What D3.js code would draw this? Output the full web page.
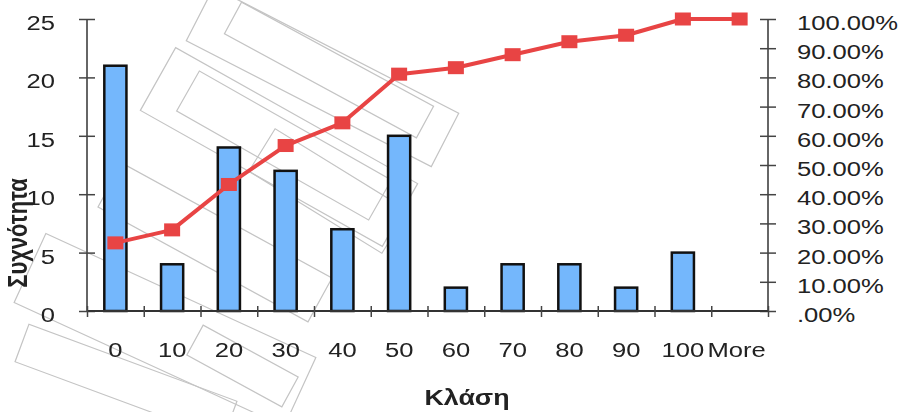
<!DOCTYPE html>
<html>
<head>
<meta charset="utf-8">
<script src="https://cdn.jsdelivr.net/npm/d3@7/dist/d3.min.js"></script>
<style>
  html, body { margin: 0; padding: 0; background: #fff; }
  svg { display: block; }
  text { font-family: "Liberation Sans", Arial, sans-serif; fill: #222; }
</style>
</head>
<body>
<svg id="chart" width="906" height="412"></svg>
<script>
// Histogram classes and their frequencies
const classes = ["0", "10", "20", "30", "40", "50", "60", "70", "80", "90", "100", "More"];
const frequency = [21, 4, 14, 12, 7, 15, 2, 4, 4, 2, 5, 0];
// Cumulative percentage for each class
const cumulative = [0.2333, 0.2778, 0.4333, 0.5667, 0.6444, 0.8111, 0.8333, 0.8778, 0.9222, 0.9444, 1.0, 1.0];
const freqTicks = [0, 5, 10, 15, 20, 25];
const pctTicks = [0, 0.1, 0.2, 0.3, 0.4, 0.5, 0.6, 0.7, 0.8, 0.9, 1.0];

const svg = d3.select("#chart");
const SX = 1.22; // horizontal text stretch

const plotL = 87, plotR = 768, plotT = 19, plotB = 311;

const x = d3.scaleBand().domain(classes).range([plotL, plotR]).padding(0);
const edge = d3.scaleLinear().domain([0, classes.length]).range([plotL, plotR]);
const yL = d3.scaleLinear().domain([0, 25]).range([plotB, plotT]);
const yR = d3.scaleLinear().domain([0, 1]).range([plotB, plotT]);

// faint background emblem: slanted outlined bands
const defs = svg.append("defs");
defs.append("filter").attr("id", "soft").append("feGaussianBlur").attr("stdDeviation", 0.6);
const mark = svg.append("g").attr("fill", "none").attr("stroke", "#c4c4c4")
  .attr("stroke-width", 1.2).attr("filter", "url(#soft)");
const emblem = [
  [[200, 14], [445, 140], 60], [[233, 18], [425, 122], 36],
  [[158, 79], [400, 215], 72], [[188, 91], [380, 200], 46],
  [[262, 150], [395, 232], 50],
  [[110, 185], [320, 300], 50],
  [[30, 268], [300, 392], 76], [[22, 343], [230, 420], 40],
  [[195, 340], [290, 392], 34]
];
emblem.forEach(([a, b, w]) => {
  const len = Math.hypot(b[0] - a[0], b[1] - a[1]);
  const ang = Math.atan2(b[1] - a[1], b[0] - a[0]) * 180 / Math.PI;
  mark.append("rect").attr("x", 0).attr("y", -w / 2).attr("width", len).attr("height", w)
    .attr("transform", `translate(${a[0]},${a[1]}) rotate(${ang})`);
});

// bars
const barW = x.bandwidth() * 0.39;
svg.append("g").selectAll("rect").data(classes.map((c, i) => ({ c, v: frequency[i] })).filter(d => d.v > 0))
  .join("rect")
  .attr("x", d => x(d.c) + x.bandwidth() / 2 - barW / 2)
  .attr("y", d => yL(d.v))
  .attr("width", barW)
  .attr("height", d => yL(0) - yL(d.v))
  .attr("fill", "#74b7fc")
  .attr("stroke", "#111")
  .attr("stroke-width", 2.5);

// left axis
const gL = svg.append("g").attr("transform", `translate(${plotL},0)`)
  .call(d3.axisLeft(yL).tickValues(freqTicks).tickSize(8).tickFormat(d3.format("d")));
gL.select(".domain").attr("stroke", "#666").attr("stroke-width", 2).attr("d", `M0,${plotT}V${plotB}`);
gL.selectAll(".tick line").attr("x1", -8).attr("x2", 8).attr("stroke", "#444").attr("stroke-width", 1.5);
gL.selectAll(".tick text").attr("font-size", 21).attr("font-family", "Liberation Sans, Arial, sans-serif")
  .attr("fill", "#222").attr("x", -32 / SX).attr("dy", 0).attr("y", 10.5)
  .attr("transform", `scale(${SX},1)`);

// right axis
const gR = svg.append("g").attr("transform", `translate(${plotR},0)`)
  .call(d3.axisRight(yR).tickValues(pctTicks).tickSize(8)
    .tickFormat(d => d === 0 ? ".00%" : d3.format(".2f")(d * 100) + "%"));
gR.select(".domain").attr("stroke", "#666").attr("stroke-width", 2).attr("d", `M0,${plotT}V${plotB}`);
gR.selectAll(".tick line").attr("x1", -8).attr("x2", 8).attr("stroke", "#444").attr("stroke-width", 1.5);
gR.selectAll(".tick text").attr("font-size", 21).attr("font-family", "Liberation Sans, Arial, sans-serif")
  .attr("fill", "#222").attr("x", 29 / SX).attr("dy", 0).attr("y", 10.5)
  .attr("transform", `scale(${SX},1)`);

// bottom axis: ticks at class boundaries, labels at class centres
const gB = svg.append("g").attr("transform", `translate(0,${plotB})`)
  .call(d3.axisBottom(edge).tickValues(d3.range(classes.length + 1)).tickSize(6).tickFormat(""));
gB.select(".domain").attr("stroke", "#333").attr("stroke-width", 2).attr("d", `M${plotL},0H${plotR}`);
gB.selectAll(".tick line").attr("y1", -5).attr("y2", 6).attr("stroke", "#444").attr("stroke-width", 1.5);

const gBL = svg.append("g").attr("transform", `translate(0,${plotB})`)
  .call(d3.axisBottom(x).tickSize(0));
gBL.select(".domain").remove();
gBL.selectAll(".tick text").attr("font-size", 21).attr("font-family", "Liberation Sans, Arial, sans-serif")
  .attr("fill", "#222").attr("y", 46).attr("dy", 0)
  .attr("transform", `scale(${SX},1)`)
  .attr("x", d => d === "More" ? -3 / SX : 0);

// cumulative line
const pts = classes.map((c, i) => ({ x: x(c) + x.bandwidth() / 2, y: yR(cumulative[i]) }));
svg.append("path").datum(pts)
  .attr("d", d3.line().x(d => d.x).y(d => d.y))
  .attr("fill", "none").attr("stroke", "#e84444").attr("stroke-width", 4).attr("stroke-linejoin", "round");
svg.append("g").selectAll("rect").data(pts).join("rect")
  .attr("x", d => d.x - 8).attr("y", d => d.y - 6.5)
  .attr("width", 16).attr("height", 13).attr("fill", "#e84444");

// axis titles
svg.append("text").text("Κλάση")
  .attr("transform", `translate(467,405) scale(${SX},1)`)
  .attr("text-anchor", "middle").attr("font-size", 22).attr("font-weight", "bold").attr("fill", "#111");
svg.append("text").text("Συχνότητα")
  .attr("transform", `translate(27,233) scale(${SX},1) rotate(-90)`)
  .attr("text-anchor", "middle").attr("font-size", 22).attr("font-weight", "bold").attr("fill", "#111");
</script>
</body>
</html>
